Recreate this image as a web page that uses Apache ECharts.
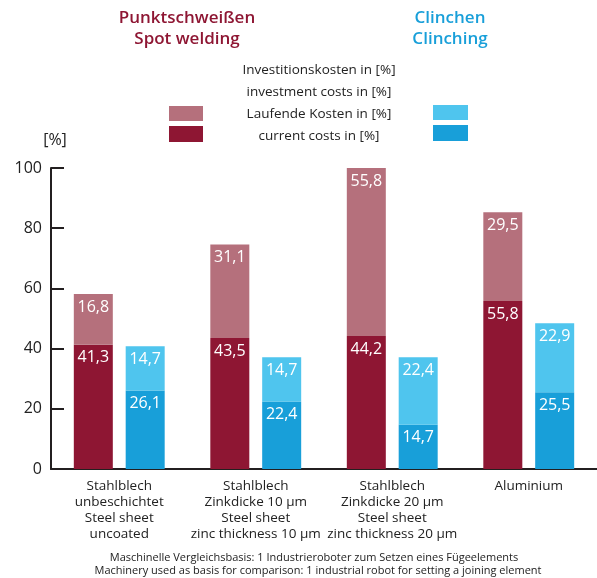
<!DOCTYPE html>
<html>
<head>
<meta charset="utf-8">
<script src="https://cdn.jsdelivr.net/npm/echarts@6/dist/echarts.min.js"></script>
<style>
    html, body { margin: 0; padding: 0; background: #fff; }
    #chart { width: 597px; height: 578px; }
</style>
</head>
<body>
<div id="chart"></div>
<script>
// Kategorien (x-Achse)
var categories = [
    'Stahlblech\nunbeschichtet\nSteel sheet\nuncoated',
    'Stahlblech\nZinkdicke 10 µm\nSteel sheet\nzinc thickness 10 µm',
    'Stahlblech\nZinkdicke 20 µm\nSteel sheet\nzinc thickness 20 µm',
    'Aluminium'
];
// Punktschweißen
var spotLower = [41.3, 43.5, 44.2, 55.8];
var spotUpper = [16.8, 31.1, 55.8, 29.5];
// Clinchen
var clinchLower = [26.1, 22.4, 14.7, 25.5];
var clinchUpper = [14.7, 14.7, 22.4, 22.9];
var yTicks = [0, 20, 40, 60, 80, 100];

var FONT = 'Open Sans';
var C_DARK = '#8e1633', C_PINK = '#b5707c', C_BLUE = '#189fd9', C_LIGHT = '#4fc5ee';

var chart = echarts.init(document.getElementById('chart'));

function barLabel() {
    return {
        show: true,
        position: 'insideTop',
        distance: 5,
        color: '#fff',
        fontFamily: FONT,
        fontSize: 16,
        formatter: function (p) { return String(p.value).replace('.', ','); }
    };
}

function makeSeries(name, stack, data, color) {
    return {
        name: name,
        type: 'bar',
        stack: stack,
        data: data,
        barWidth: 39,
        barGap: '33%',
        itemStyle: { color: color },
        label: barLabel(),
        emphasis: { disabled: true }
    };
}

// Textbausteine (Titel, Legende, Fußnote)
function txt(x, y, s, fill, font) {
    return { type: 'text', x: x, y: y, style: { text: s, align: 'center', verticalAlign: 'middle', fill: fill, font: font } };
}
var titleFont = '600 17px "Open Sans"';
var legFont = '13.5px "Open Sans"';
var noteFont = '11px "Open Sans"';

var option = {
    animation: false,
    grid: { left: 51, top: 168, width: 548, height: 301 },
    xAxis: {
        type: 'category',
        data: categories,
        axisLine: { lineStyle: { color: '#231f20', width: 2 } },
        axisTick: { show: false },
        axisLabel: {
            margin: 9,
            color: '#222',
            fontFamily: FONT,
            fontSize: 13.5,
            lineHeight: 16,
            interval: 0
        }
    },
    yAxis: {
        type: 'value',
        min: yTicks[0],
        max: yTicks[yTicks.length - 1],
        interval: 20,
        splitLine: { show: false },
        axisLine: { show: true, lineStyle: { color: '#231f20', width: 2 } },
        axisTick: { show: true, inside: true, length: 13, lineStyle: { color: '#231f20', width: 2 } },
        axisLabel: { margin: 9, color: '#222', fontFamily: FONT, fontSize: 16 }
    },
    graphic: [
        txt(187, 18, 'Punktschweißen', C_DARK, titleFont),
        txt(187, 39, 'Spot welding', C_DARK, titleFont),
        txt(450, 18, 'Clinchen', C_BLUE, titleFont),
        txt(450, 39, 'Clinching', C_BLUE, titleFont),
        txt(319, 70, 'Investitionskosten in [%]', '#222', legFont),
        txt(319, 92, 'investment costs in [%]', '#222', legFont),
        txt(319, 114, 'Laufende Kosten in [%]', '#222', legFont),
        txt(319, 136, 'current costs in [%]', '#222', legFont),
        { type: 'rect', shape: { x: 169, y: 106, width: 34, height: 15 }, style: { fill: C_PINK } },
        { type: 'rect', shape: { x: 169, y: 126, width: 34, height: 16 }, style: { fill: C_DARK } },
        { type: 'rect', shape: { x: 433, y: 105, width: 35, height: 15 }, style: { fill: C_LIGHT } },
        { type: 'rect', shape: { x: 433, y: 125, width: 35, height: 16 }, style: { fill: C_BLUE } },
        txt(55, 140, '[%]', '#222', '16px "Open Sans"'),
        txt(314, 558, 'Maschinelle Vergleichsbasis: 1 Industrieroboter zum Setzen eines Fügeelements', '#222', noteFont),
        txt(318, 571, 'Machinery used as basis for comparison: 1 industrial robot for setting a joining element', '#222', noteFont)
    ],
    series: [
        makeSeries('current costs spot', 'spot', spotLower, C_DARK),
        makeSeries('investment costs spot', 'spot', spotUpper, C_PINK),
        makeSeries('current costs clinch', 'clinch', clinchLower, C_BLUE),
        makeSeries('investment costs clinch', 'clinch', clinchUpper, C_LIGHT)
    ]
};
chart.setOption(option);
</script>
</body>
</html>
